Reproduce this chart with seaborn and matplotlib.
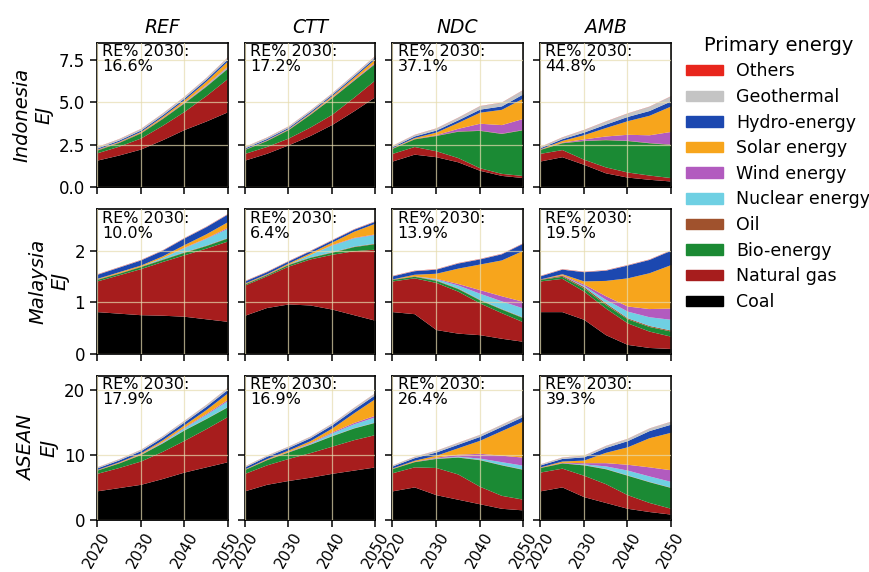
import matplotlib
matplotlib.use("Agg")
import matplotlib.pyplot as plt
import matplotlib.patches as mpatches
import seaborn as sns

# years of the model runs
years = [2020, 2025, 2030, 2035, 2040, 2045, 2050]

# stacking order, bottom to top
fuels = ["coal", "gas", "bio", "oil", "nuclear", "wind", "solar", "hydro", "geo", "other"]
labels = ["Coal", "Natural gas", "Bio-energy", "Oil", "Nuclear energy", "Wind energy",
          "Solar energy", "Hydro-energy", "Geothermal", "Others"]
colors = ["#000000", "#a71d1d", "#1b8a34", "#a0522d", "#6fd0e3", "#b25bbf",
          "#f7a51c", "#1c48b0", "#c4c4c4", "#e8261c"]

scenarios = ["REF", "CTT", "NDC", "AMB"]
regions = ["Indonesia", "Malaysia", "ASEAN"]
re_2030 = [[16.6, 17.2, 37.1, 44.8],
           [10.0, 6.4, 13.9, 19.5],
           [17.9, 16.9, 26.4, 39.3]]

# primary energy, EJ
idn_ref = dict(coal=[1.6, 1.9, 2.25, 2.8, 3.4, 3.9, 4.45],
               gas=[0.43, 0.52, 0.65, 0.85, 1.07, 1.5, 1.97],
               bio=[0.16, 0.22, 0.3, 0.4, 0.5, 0.55, 0.6],
               oil=[0.03, 0.03, 0.03, 0.03, 0.03, 0.03, 0.03],
               nuclear=[0, 0, 0, 0, 0.01, 0.03, 0.05],
               wind=[0.01, 0.01, 0.01, 0.02, 0.03, 0.04, 0.05],
               solar=[0.02, 0.03, 0.05, 0.08, 0.12, 0.2, 0.3],
               hydro=[0.06, 0.07, 0.08, 0.09, 0.1, 0.11, 0.12],
               geo=[0.08, 0.08, 0.09, 0.1, 0.1, 0.1, 0.12],
               other=[0.01, 0.01, 0.01, 0.01, 0.01, 0.01, 0.01])
idn_ctt = dict(coal=[1.6, 2.0, 2.5, 3.05, 3.7, 4.5, 5.35],
               gas=[0.4, 0.4, 0.4, 0.5, 0.6, 0.8, 1.0],
               bio=[0.23, 0.35, 0.5, 0.75, 0.97, 1.0, 0.97],
               oil=[0.02, 0.02, 0.02, 0.02, 0.02, 0.02, 0.02],
               nuclear=[0, 0, 0, 0, 0, 0, 0],
               wind=[0, 0.01, 0.01, 0.02, 0.03, 0.04, 0.05],
               solar=[0.01, 0.02, 0.03, 0.05, 0.08, 0.12, 0.2],
               hydro=[0.06, 0.07, 0.07, 0.08, 0.08, 0.09, 0.1],
               geo=[0.08, 0.08, 0.08, 0.08, 0.08, 0.09, 0.1],
               other=[0.01, 0.01, 0.01, 0.01, 0.01, 0.01, 0.01])
idn_ndc = dict(coal=[1.55, 1.95, 1.8, 1.5, 1.0, 0.7, 0.57],
               gas=[0.45, 0.45, 0.35, 0.25, 0.15, 0.12, 0.12],
               bio=[0.3, 0.45, 0.9, 1.55, 2.2, 2.35, 2.7],
               oil=[0.02, 0.02, 0.02, 0.02, 0.02, 0.02, 0.02],
               nuclear=[0, 0, 0, 0, 0, 0, 0],
               wind=[0, 0.01, 0.03, 0.15, 0.4, 0.5, 0.65],
               solar=[0.02, 0.05, 0.15, 0.35, 0.65, 0.9, 1.2],
               hydro=[0.06, 0.09, 0.12, 0.15, 0.18, 0.2, 0.25],
               geo=[0.07, 0.09, 0.12, 0.15, 0.2, 0.22, 0.25],
               other=[0.01, 0.01, 0.01, 0.01, 0.01, 0.01, 0.01])
idn_amb = dict(coal=[1.55, 1.8, 1.35, 0.85, 0.6, 0.47, 0.37],
               gas=[0.45, 0.42, 0.3, 0.35, 0.3, 0.25, 0.2],
               bio=[0.23, 0.4, 1.1, 1.6, 1.85, 1.9, 1.95],
               oil=[0.02, 0.02, 0.02, 0.02, 0.02, 0.02, 0.02],
               nuclear=[0, 0, 0, 0, 0, 0, 0],
               wind=[0, 0.02, 0.08, 0.2, 0.35, 0.45, 0.75],
               solar=[0.02, 0.1, 0.25, 0.5, 0.8, 1.15, 1.5],
               hydro=[0.06, 0.1, 0.15, 0.2, 0.25, 0.28, 0.3],
               geo=[0.07, 0.1, 0.15, 0.18, 0.2, 0.25, 0.3],
               other=[0.01, 0.01, 0.01, 0.01, 0.01, 0.01, 0.01])

mys_ref = dict(coal=[0.82, 0.79, 0.76, 0.75, 0.73, 0.68, 0.63],
               gas=[0.6, 0.75, 0.9, 1.05, 1.2, 1.38, 1.57],
               bio=[0.03, 0.03, 0.04, 0.04, 0.05, 0.05, 0.06],
               oil=[0.01, 0.01, 0.01, 0.01, 0.01, 0.01, 0.01],
               nuclear=[0, 0, 0, 0.03, 0.08, 0.13, 0.18],
               wind=[0, 0, 0, 0, 0.01, 0.01, 0.02],
               solar=[0.01, 0.02, 0.02, 0.03, 0.05, 0.08, 0.11],
               hydro=[0.08, 0.09, 0.1, 0.11, 0.13, 0.14, 0.15],
               geo=[0.005, 0.005, 0.005, 0.005, 0.005, 0.005, 0.005],
               other=[0.005, 0.005, 0.005, 0.005, 0.005, 0.005, 0.005])
mys_ctt = dict(coal=[0.75, 0.9, 0.97, 0.95, 0.87, 0.76, 0.65],
               gas=[0.59, 0.62, 0.74, 0.9, 1.07, 1.25, 1.39],
               bio=[0.02, 0.02, 0.03, 0.03, 0.04, 0.08, 0.11],
               oil=[0.01, 0.01, 0.01, 0.01, 0.01, 0.01, 0.01],
               nuclear=[0, 0, 0, 0.05, 0.13, 0.16, 0.17],
               wind=[0, 0, 0, 0, 0.01, 0.01, 0.01],
               solar=[0.01, 0.01, 0.02, 0.03, 0.05, 0.12, 0.21],
               hydro=[0.04, 0.04, 0.04, 0.04, 0.04, 0.04, 0.04],
               geo=[0.005, 0.005, 0.005, 0.005, 0.005, 0.005, 0.005],
               other=[0.005, 0.005, 0.005, 0.005, 0.005, 0.005, 0.005])
mys_ndc = dict(coal=[0.82, 0.78, 0.47, 0.4, 0.37, 0.3, 0.24],
               gas=[0.6, 0.7, 0.92, 0.82, 0.62, 0.5, 0.38],
               bio=[0.03, 0.03, 0.04, 0.05, 0.06, 0.07, 0.08],
               oil=[0.01, 0.01, 0.01, 0.01, 0.01, 0.01, 0.01],
               nuclear=[0, 0, 0.02, 0.06, 0.12, 0.15, 0.18],
               wind=[0, 0, 0.01, 0.03, 0.07, 0.1, 0.13],
               solar=[0, 0.03, 0.1, 0.3, 0.5, 0.7, 1.0],
               hydro=[0.06, 0.07, 0.08, 0.1, 0.1, 0.12, 0.14],
               geo=[0.005, 0.005, 0.005, 0.005, 0.005, 0.005, 0.005],
               other=[0.005, 0.005, 0.005, 0.005, 0.005, 0.005, 0.005])
mys_amb = dict(coal=[0.82, 0.82, 0.67, 0.37, 0.18, 0.12, 0.1],
               gas=[0.6, 0.65, 0.55, 0.52, 0.42, 0.32, 0.24],
               bio=[0.03, 0.04, 0.06, 0.07, 0.08, 0.09, 0.1],
               oil=[0.01, 0.02, 0.03, 0.03, 0.02, 0.02, 0.02],
               nuclear=[0, 0, 0.02, 0.07, 0.13, 0.17, 0.21],
               wind=[0, 0.01, 0.03, 0.07, 0.1, 0.16, 0.22],
               solar=[0, 0.02, 0.06, 0.3, 0.55, 0.7, 0.85],
               hydro=[0.06, 0.09, 0.18, 0.2, 0.25, 0.26, 0.28],
               geo=[0.005, 0.005, 0.005, 0.005, 0.005, 0.005, 0.005],
               other=[0.005, 0.005, 0.005, 0.005, 0.005, 0.005, 0.005])

asean_ref = dict(coal=[4.5, 5.0, 5.5, 6.4, 7.4, 8.2, 9.0],
                 gas=[2.7, 3.1, 3.6, 4.2, 4.9, 5.9, 7.0],
                 bio=[0.5, 0.7, 1.0, 1.3, 1.6, 1.55, 1.5],
                 oil=[0.05, 0.05, 0.05, 0.05, 0.05, 0.05, 0.05],
                 nuclear=[0, 0, 0, 0.1, 0.3, 0.6, 0.9],
                 wind=[0, 0.02, 0.05, 0.08, 0.1, 0.15, 0.2],
                 solar=[0.05, 0.1, 0.15, 0.25, 0.35, 0.6, 1.0],
                 hydro=[0.25, 0.3, 0.35, 0.4, 0.45, 0.5, 0.55],
                 geo=[0.15, 0.17, 0.2, 0.22, 0.25, 0.28, 0.3],
                 other=[0.02, 0.02, 0.02, 0.02, 0.02, 0.02, 0.02])
asean_ctt = dict(coal=[4.5, 5.5, 6.1, 6.6, 7.2, 7.7, 8.2],
                 gas=[2.7, 3.0, 3.4, 3.8, 4.2, 4.7, 5.0],
                 bio=[0.6, 0.8, 1.0, 1.3, 1.6, 1.8, 1.9],
                 oil=[0.05, 0.05, 0.05, 0.05, 0.05, 0.05, 0.05],
                 nuclear=[0, 0, 0, 0.1, 0.4, 0.6, 0.8],
                 wind=[0, 0.02, 0.05, 0.1, 0.15, 0.2, 0.25],
                 solar=[0.05, 0.1, 0.2, 0.3, 0.6, 1.5, 2.6],
                 hydro=[0.3, 0.35, 0.4, 0.45, 0.5, 0.55, 0.6],
                 geo=[0.15, 0.17, 0.2, 0.22, 0.25, 0.28, 0.3],
                 other=[0.02, 0.02, 0.02, 0.02, 0.02, 0.02, 0.02])
asean_ndc = dict(coal=[4.5, 5.1, 3.9, 3.2, 2.5, 1.8, 1.55],
                 gas=[2.8, 3.1, 4.2, 3.9, 2.7, 2.0, 1.65],
                 bio=[0.65, 0.8, 1.4, 2.6, 4.1, 4.7, 4.6],
                 oil=[0.05, 0.05, 0.05, 0.05, 0.05, 0.05, 0.05],
                 nuclear=[0, 0, 0.05, 0.1, 0.2, 0.45, 0.6],
                 wind=[0, 0.02, 0.1, 0.3, 0.75, 1.0, 1.25],
                 solar=[0.05, 0.15, 0.3, 1.0, 2.0, 3.8, 5.6],
                 hydro=[0.3, 0.4, 0.5, 0.55, 0.6, 0.65, 0.7],
                 geo=[0.15, 0.2, 0.25, 0.28, 0.3, 0.32, 0.35],
                 other=[0.02, 0.02, 0.02, 0.02, 0.02, 0.02, 0.02])
asean_amb = dict(coal=[4.5, 5.1, 3.6, 2.7, 1.8, 1.3, 0.9],
                 gas=[2.9, 2.9, 3.3, 2.9, 2.1, 1.4, 0.9],
                 bio=[0.7, 0.8, 1.6, 2.3, 3.0, 3.2, 3.2],
                 oil=[0.05, 0.05, 0.05, 0.05, 0.05, 0.05, 0.05],
                 nuclear=[0, 0, 0.1, 0.4, 0.75, 0.85, 0.9],
                 wind=[0, 0.05, 0.2, 0.5, 0.9, 1.4, 1.8],
                 solar=[0.05, 0.2, 0.4, 1.6, 2.7, 4.5, 5.8],
                 hydro=[0.3, 0.4, 0.5, 0.75, 0.95, 1.1, 1.25],
                 geo=[0.15, 0.2, 0.25, 0.3, 0.35, 0.4, 0.45],
                 other=[0.02, 0.02, 0.02, 0.02, 0.02, 0.02, 0.02])

panels = [[idn_ref, idn_ctt, idn_ndc, idn_amb],
          [mys_ref, mys_ctt, mys_ndc, mys_amb],
          [asean_ref, asean_ctt, asean_ndc, asean_amb]]
row_ylim = [8.5, 2.82, 22.3]
row_yticks = [[0, 2.5, 5, 7.5], [0, 1, 2], [0, 10, 20]]

sns.set_theme(style="ticks")
plt.rcParams["font.family"] = ["DejaVu Sans"]
plt.rcParams.update({"text.color": "black", "xtick.color": "black",
                     "ytick.color": "black", "axes.labelcolor": "black"})

fig, axes = plt.subplots(3, 4, figsize=(8.69, 5.72), dpi=100, sharex=True, sharey="row")
fig.subplots_adjust(left=0.1116, right=0.772, top=0.925, bottom=0.091, wspace=0.13, hspace=0.152)

for i, row in enumerate(panels):
    for j, d in enumerate(row):
        ax = axes[i, j]
        ax.stackplot(years, [d[f] for f in fuels], colors=colors, linewidth=0)
        ax.set_xlim(2020, 2050)
        ax.set_ylim(0, row_ylim[i])
        ax.set_yticks(row_yticks[i])
        ax.set_xticks([2020, 2030, 2040, 2050])
        ax.set_axisbelow(False)
        ax.grid(True, color="#e6dcb0", alpha=0.7, linewidth=0.9)
        for s in ax.spines.values():
            s.set_color("black")
            s.set_linewidth(1.2)
        ax.tick_params(axis="y", labelsize=12, length=5, width=1.1, color="black")
        ax.tick_params(axis="x", labelsize=11, length=5, width=1.1, color="black", pad=2)
        ax.text(0.04, 0.99, f"RE% 2030:\n{re_2030[i][j]:.1f}%", transform=ax.transAxes,
                ha="left", va="top", fontsize=11.5, linespacing=1.0)
        if i == 0:
            ax.set_title(scenarios[j], fontsize=13.5, style="italic", pad=7)
        if j == 0:
            ax.set_ylabel(f"{regions[i]}\nEJ", fontsize=14, style="italic", labelpad=4)
        if i == 2:
            ax.tick_params(axis="x", rotation=60)

for ax in axes[0, :]:
    ax.yaxis.set_major_formatter(matplotlib.ticker.FormatStrFormatter("%.1f"))

handles = [mpatches.Patch(color=c, label=l) for c, l in zip(colors, labels)][::-1]
fig.legend(handles=handles, title="Primary energy", loc="upper left",
           bbox_to_anchor=(0.772, 0.965), frameon=False, fontsize=12.5, title_fontsize=14,
           handlelength=2.1, handleheight=0.55, handletextpad=0.75, labelspacing=0.44)

fig.savefig("out.png", dpi=100)
